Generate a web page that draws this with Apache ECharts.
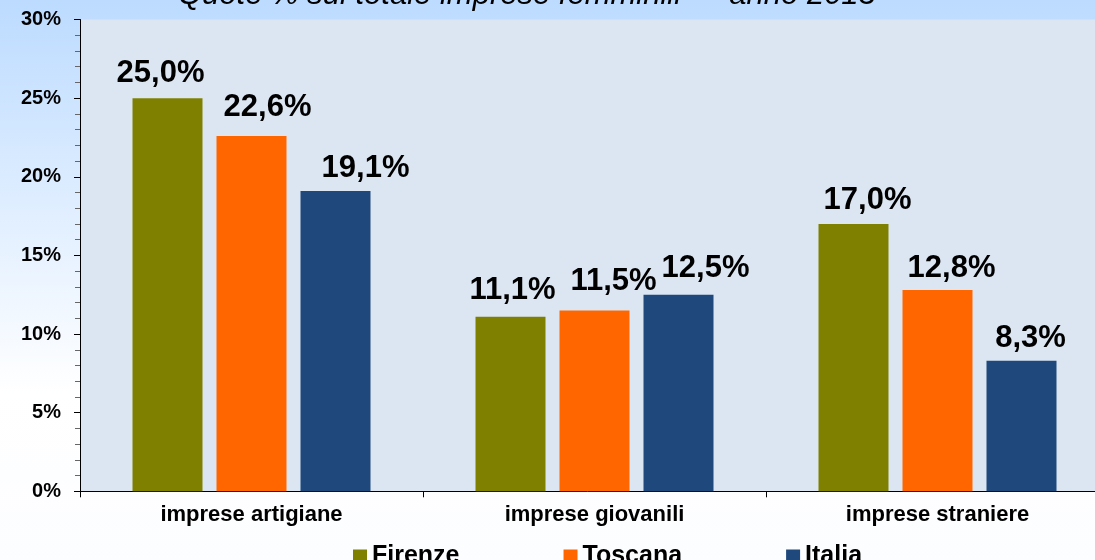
<!DOCTYPE html>
<html>
<head>
<meta charset="utf-8">
<script src="https://cdn.jsdelivr.net/npm/echarts@6/dist/echarts.min.js"></script>
<style>
html,body{margin:0;padding:0;}
#c{width:1095px;height:560px;}
</style>
</head>
<body>
<div id="c"></div>
<script>
const titleText = 'Quote % sul totale imprese femminili \u2014 anno 2013';
const categories = ['imprese artigiane', 'imprese giovanili', 'imprese straniere'];
const seriesNames = ['Firenze', 'Toscana', 'Italia'];
const firenze = [25.0, 11.1, 17.0];
const toscana = [22.6, 11.5, 12.8];
const italia = [19.1, 12.5, 8.3];
const yTicks = [0, 5, 10, 15, 20, 25, 30];
const colors = ['#808000', '#ff6600', '#1f497d'];

// label placement tweaks (style only), per series per category: [dx, dy]
const labelShift = [
  [[-7, 0], [2, -2], [14, 1]],
  [[16, -4], [19, -4], [14, 3]],
  [[30, 2], [27, -2], [9, 2]]
];

const fam = 'Liberation Sans, Arial, sans-serif';
const chart = echarts.init(document.getElementById('c'), null, {renderer: 'canvas'});

function fmt(v) { return v.toFixed(1).replace('.', ',') + '%'; }

const values = [firenze, toscana, italia];
const series = seriesNames.map((n, i) => ({
  name: n,
  type: 'bar',
  data: values[i].map((v, j) => ({value: v, label: {offset: labelShift[i][j]}})),
  barWidth: 70,
  barGap: '20%',
  itemStyle: {color: colors[i]},
  label: {
    show: true,
    position: 'top',
    distance: 9,
    formatter: p => fmt(p.value),
    color: '#000',
    fontFamily: fam,
    fontWeight: 'bold',
    fontSize: 31,
    lineHeight: 31
  }
}));

chart.setOption({
  animation: false,
  backgroundColor: {
    type: 'linear', x: 0, y: 0, x2: 0, y2: 1,
    colorStops: [
      {offset: 0, color: '#bcdbff'},
      {offset: 0.7, color: '#ffffff'},
      {offset: 1, color: '#fcfdff'}
    ]
  },
  title: {
    text: titleText,
    left: 178,
    top: -20,
    padding: 0,
    textStyle: {
      fontFamily: fam,
      fontStyle: 'italic',
      fontWeight: 'normal',
      fontSize: 31,
      lineHeight: 31,
      color: '#000'
    }
  },
  legend: {
    data: seriesNames,
    left: 353,
    top: 544,
    itemGap: 104,
    itemWidth: 14,
    itemHeight: 14,
    icon: 'rect',
    padding: 0,
    textStyle: {
      fontFamily: fam,
      fontWeight: 'bold',
      fontSize: 25,
      lineHeight: 25,
      color: '#000'
    }
  },
  grid: {
    left: 80,
    top: 19.5,
    right: -14,
    bottom: 68.7,
    containLabel: false,
    outerBoundsMode: 'none',
    show: true,
    backgroundColor: '#dce6f2',
    borderWidth: 0
  },
  xAxis: {
    type: 'category',
    data: categories,
    axisLine: {lineStyle: {color: '#000', width: 1}},
    axisTick: {show: true, length: 6, alignWithLabel: false, lineStyle: {color: '#000'}},
    axisLabel: {
      margin: 13,
      color: '#000',
      fontFamily: fam,
      fontWeight: 'bold',
      fontSize: 22,
      lineHeight: 22
    },
    splitLine: {show: false}
  },
  yAxis: {
    type: 'value',
    min: yTicks[0],
    max: yTicks[yTicks.length - 1],
    interval: 5,
    axisLine: {show: true, lineStyle: {color: '#000', width: 1}},
    axisTick: {show: true, length: 6, lineStyle: {color: '#000'}},
    minorTick: {show: true, splitNumber: 5, length: 5, lineStyle: {color: '#666'}},
    splitLine: {show: false},
    axisLabel: {
      margin: 19,
      formatter: v => yTicks.includes(v) ? v + '%' : '',
      color: '#000',
      fontFamily: fam,
      fontWeight: 'bold',
      fontSize: 20
    }
  },
  series: series
});
</script>
</body>
</html>
